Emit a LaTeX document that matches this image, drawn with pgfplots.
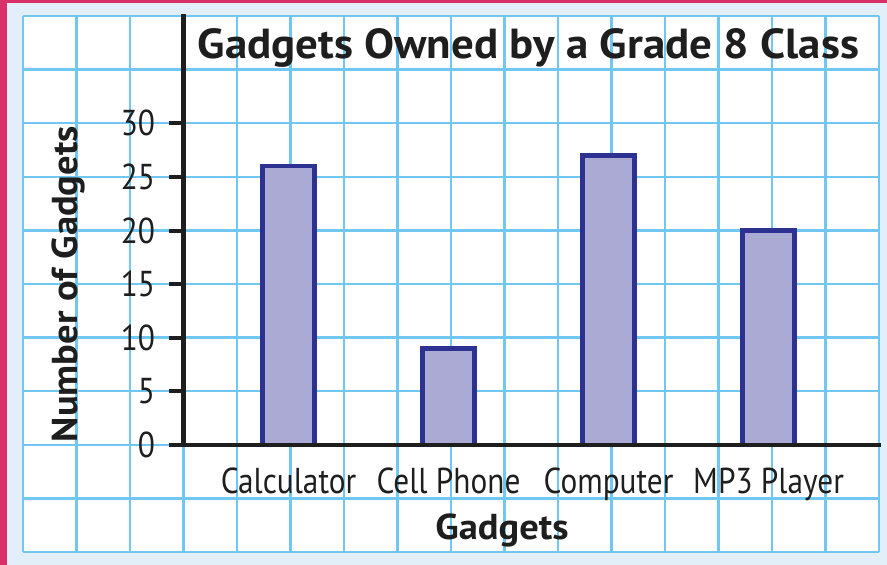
\documentclass[border=0pt]{standalone}
\usepackage{pgfplots}
\pgfplotsset{compat=1.18}
\usepackage{fontspec}
\setmainfont{PT Sans}[FakeStretch=0.87]
\newfontfamily\boldfont{PT Sans Bold}[FakeStretch=1.07]
\definecolor{pinkedge}{RGB}{217,48,106}
\definecolor{bgblue}{RGB}{226,239,249}
\definecolor{gridblue}{RGB}{112,200,242}
\definecolor{barfill}{RGB}{170,170,212}
\definecolor{barline}{RGB}{44,49,146}
\definecolor{ink}{RGB}{30,30,30}
\begin{document}
\begin{tikzpicture}[x=1pt,y=1pt]
\fill[pinkedge] (0,0) rectangle (887,-565);
\fill[bgblue] (7,-3) rectangle (887,-565);
\fill[white] (23,-16) rectangle (879,-552);
\foreach \k in {0,...,16} \draw[gridblue, line width=2.5pt] ({23+53.5*\k},-16) -- ({23+53.5*\k},-552);
\foreach \k in {0,...,10} \draw[gridblue, line width=2.5pt] (23,{-16-53.6*\k}) -- (879,{-16-53.6*\k});
\coordinate (A) at (183.5pt,-445pt);
\begin{axis}[
  at={(A)}, anchor=south west,
  scale only axis, width=695.5pt, height=429pt,
  xmin=-0.656, xmax=3.69, ymin=0, ymax=40,
  axis x line*=bottom, axis y line*=left,
  axis line style={ink, line width=4.5pt, line cap=rect},
  axis on top,
  ybar, bar width=52pt,
  ytick={0,5,...,30},
  xtick={0,1,2,3},
  xticklabels={Calculator, Cell Phone, Computer, MP3 Player},
  x tick style={draw=none},
  y tick style={ink, line width=4pt},
  major tick length=14pt, tick align=outside,
  tick label style={font=\fontsize{36}{40}\selectfont, text=ink},
  xticklabel style={yshift=-5pt},
  yticklabel style={xshift=-11pt},
  /pgf/number format/assume math mode=true,
  title={Gadgets Owned by a Grade 8 Class},
  title style={at={(axis description cs:0.496,0.888)}, anchor=base, font=\boldfont\fontsize{42}{46}\selectfont, text=ink},
  ylabel={Number of Gadgets},
  every axis y label/.style={at={(axis description cs:-0.165,0.375)}, rotate=90, anchor=center, font=\boldfont\fontsize{36}{40}\selectfont, text=ink},
  xlabel={Gadgets},
  every axis x label/.style={at={(axis description cs:0.458,-0.2)}, anchor=center, font=\boldfont\fontsize{36}{40}\selectfont, text=ink},
]
\addplot[fill=barfill, draw=barline, line width=4.5pt] coordinates {(0,26) (1,9) (2,27) (3,20)};
\end{axis}
\pgfresetboundingbox
\useasboundingbox (0,0) rectangle (887,-565);
\end{tikzpicture}
\end{document}
